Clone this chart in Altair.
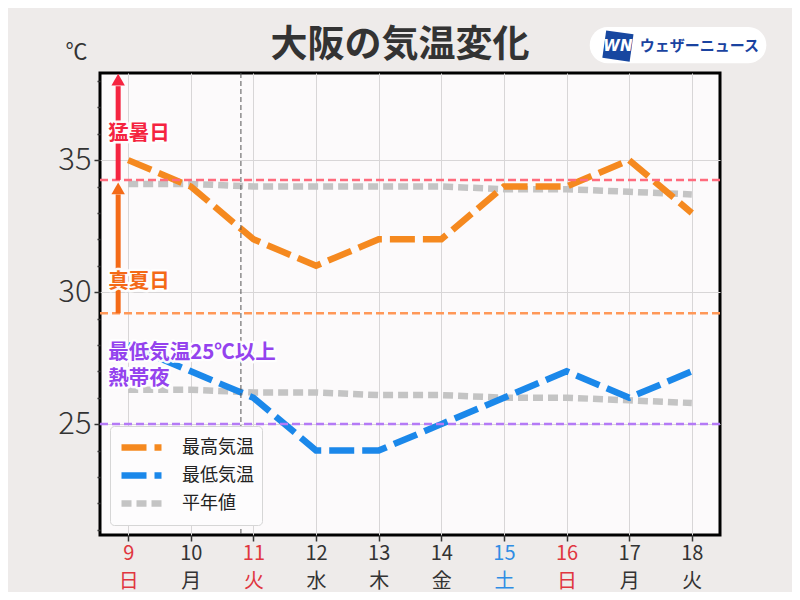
import json
import altair as alt
import pandas as pd

# ---------------- data ----------------
days = [9, 10, 11, 12, 13, 14, 15, 16, 17, 18]
weekdays = ["日", "月", "火", "水", "木", "金", "土", "日", "月", "火"]
holiday_days = [9, 11, 16]
saturday_days = [15]
max_temp = [35, 34, 32, 31, 32, 32, 34, 34, 35, 33]
min_temp = [28, 27, 26, 24, 24, 25, 26, 27, 26, 27]
normal_max = [34.1, 34.1, 34.0, 34.0, 34.0, 34.0, 33.9, 33.9, 33.8, 33.7]
normal_min = [26.3, 26.3, 26.2, 26.2, 26.1, 26.1, 26.0, 26.0, 25.9, 25.8]

series_names = ["最高気温", "最低気温", "平年値"]
series_colors = ["#f5891f", "#1b88ea", "#c4c4c4"]

threshold_values = [34.25, 29.2, 25.0]
threshold_colors = ["#ff6b7d", "#ff9858", "#b47af6"]

arrow_x = [8.84, 8.84]
arrow_bottom = [34.25, 29.2]
arrow_top = [37.8, 33.7]
arrow_head = [38.05, 33.93]
arrow_colors = ["#f52440", "#f46a17"]

label_texts = ["猛暑日", "真夏日", "最低気温25℃以上", "熱帯夜"]
label_x = [8.68, 8.68, 8.68, 8.68]
label_y = [35.98, 30.38, 27.7, 26.72]
label_colors = ["#f52440", "#f46a17", "#9443ee", "#9443ee"]

today_x = [10.8]

logo_name = ["ウェザーニュース"]
logo_mark = ["WN"]
logo_box_x = [16.37, 19.19]
logo_box_y = [38.67, 40.04]
logo_mark_xy = [16.82, 39.32]
logo_text_xy = [17.17, 39.32]

# ---------------- scales / axes ----------------
XS = alt.Scale(domain=[8.55, 18.45], nice=False, zero=False)
YS = alt.Scale(domain=[20.8, 38.3], nice=False, zero=False)
FONT = "Noto Sans CJK JP"
DARK = "#333333"
RED = "#e0363f"
BLUE = "#2f8de4"

temps_rows = []
for d, a, b in zip(days, max_temp, min_temp):
    temps_rows.append({"day": d, "value": a, "series": "最高気温", "kind": "max"})
    temps_rows.append({"day": d, "value": b, "series": "最低気温", "kind": "min"})
temps_df = pd.DataFrame(temps_rows)

normal_rows = []
for d, a, b in zip(days, normal_max, normal_min):
    normal_rows.append({"day": d, "value": a, "series": "平年値", "kind": "nmax"})
    normal_rows.append({"day": d, "value": b, "series": "平年値", "kind": "nmin"})
normal_df = pd.DataFrame(normal_rows)

wd_js = json.dumps(weekdays, ensure_ascii=False)
x_axis = alt.Axis(
    values=days,
    labelExpr=f"[datum.label, {wd_js}[datum.value - {days[0]}]]",
    labelFontSize=20,
    labelLineHeight=28,
    labelPadding=2,
    labelColor={
        "condition": [
            {"test": " || ".join(f"datum.value == {d}" for d in saturday_days), "value": BLUE},
            {"test": " || ".join(f"datum.value == {d}" for d in holiday_days), "value": RED},
        ],
        "value": DARK,
    },
    tickSize=6,
    tickWidth=1.5,
    tickColor=DARK,
    domain=False,
    grid=True,
    gridColor="#d8d6d7",
    gridWidth=1,
    title=None,
)

y_axis = alt.Axis(
    values=list(range(21, 39)),
    labelExpr="datum.value % 5 === 0 ? datum.label : ''",
    labelFontSize=31,
    labelFontWeight=300,
    labelColor=DARK,
    labelPadding=3,
    tickSize={"condition": {"test": "datum.value % 5 === 0", "value": 6}, "value": 3},
    tickWidth=1.5,
    tickColor=DARK,
    domain=False,
    grid=True,
    gridColor="#d8d6d7",
    gridOpacity={"condition": {"test": "datum.value % 5 === 0", "value": 1}, "value": 0},
    title="℃",
    titleAngle=0,
    titleFontSize=22,
    titleFontWeight="normal",
    titleColor=DARK,
    titleAlign="center",
    titleBaseline="middle",
    titleX=-24,
    titleY=-22,
)


def X(field):
    return alt.X(field, scale=XS, axis=x_axis)


def Y(field):
    return alt.Y(field, scale=YS, axis=y_axis)


legend_kw = dict(
    title=None,
    orient="bottom-left",
    offset=10,
    fillColor="#fdfcfd",
    strokeColor="#d6d6d6",
    cornerRadius=4,
    padding=8,
    labelFontSize=18,
    labelColor="#222222",
    labelOffset=37,
    symbolType="M-1,0L3,0",
    symbolSize=400,
    rowPadding=1,
)

dash_range = [[25, 8], [25, 8], [10, 5]]
width_range = [6.5, 6.5, 2.2]


def build_layers(use_encode):
    if use_encode:
        legend = alt.Legend(
            encode={"symbols": {"strokeWidth": {
                "condition": {"test": f"datum.value === '{series_names[2]}'", "value": 3},
                "value": 5.5}}},
            **legend_kw,
        )
    else:
        legend = alt.Legend(**legend_kw)
    color_enc = alt.Color("series:N", scale=alt.Scale(domain=series_names, range=series_colors), legend=legend)
    dash_enc = alt.StrokeDash("series:N", scale=alt.Scale(domain=series_names, range=dash_range), legend=legend)
    extra = {}
    if not use_encode:
        extra["strokeWidth"] = alt.StrokeWidth("series:N", scale=alt.Scale(domain=series_names, range=width_range), legend=legend)
    normal_mark = dict(strokeCap="butt")
    temps_mark = dict(strokeCap="butt")
    if use_encode:
        normal_mark["strokeWidth"] = width_range[2]
        temps_mark["strokeWidth"] = width_range[0]
    normal_layer = alt.Chart(normal_df).mark_line(**normal_mark).encode(
        x=X("day:Q"), y=Y("value:Q"), color=color_enc, strokeDash=dash_enc, detail="kind:N", **extra,
    )
    temps_layer = alt.Chart(temps_df).mark_line(**temps_mark).encode(
        x=X("day:Q"), y=Y("value:Q"), color=color_enc, strokeDash=dash_enc, detail="kind:N", **extra,
    )
    return [normal_layer, temps_layer]


today_layer = alt.Chart(pd.DataFrame({"x": today_x})).mark_rule(
    color="#555555", strokeWidth=1, strokeDash=[5, 3]
).encode(x=X("x:Q"))

other_layers = [today_layer]

for v, c in zip(threshold_values, threshold_colors):
    other_layers.append(
        alt.Chart(pd.DataFrame({"y": [v]})).mark_rule(color=c, strokeWidth=2.5, strokeDash=[8, 4])
        .encode(y=Y("y:Q"))
    )

for ax, y1, y2, yh, c in zip(arrow_x, arrow_bottom, arrow_top, arrow_head, arrow_colors):
    df = pd.DataFrame({"x": [ax], "y1": [y1], "y2": [y2], "yh": [yh]})
    other_layers.append(
        alt.Chart(df).mark_rule(color=c, strokeWidth=5).encode(x=X("x:Q"), y=Y("y1:Q"), y2="y2:Q")
    )
    other_layers.append(
        alt.Chart(df).mark_point(shape="triangle-up", filled=True, color=c, size=180, opacity=1)
        .encode(x=X("x:Q"), y=Y("yh:Q"))
    )

for t, lx, ly, c in zip(label_texts, label_x, label_y, label_colors):
    df = pd.DataFrame({"x": [lx], "y": [ly], "t": [t]})
    base = alt.Chart(df).encode(x=X("x:Q"), y=Y("y:Q"), text="t:N")
    other_layers.append(base.mark_text(align="left", baseline="middle", fontSize=20.5, fontWeight="bold",
                                       font=FONT, color="white", stroke="white", strokeWidth=5,
                                       strokeJoin="round", opacity=0.95))
    other_layers.append(base.mark_text(align="left", baseline="middle", fontSize=20.5, fontWeight="bold",
                                       font=FONT, color=c))

# logo
box_df = pd.DataFrame({"x1": [logo_box_x[0]], "x2": [logo_box_x[1]], "y1": [logo_box_y[0]], "y2": [logo_box_y[1]]})
other_layers.append(
    alt.Chart(box_df).mark_rect(color="white", cornerRadius=18, clip=False).encode(
        x=X("x1:Q"), x2="x2:Q", y=Y("y1:Q"), y2="y2:Q",
    )
)
mark_df = pd.DataFrame({"x": [logo_mark_xy[0]], "y": [logo_mark_xy[1]], "t": logo_mark})
other_layers.append(
    alt.Chart(mark_df).mark_point(shape="square", filled=True, color="#1747a0", size=760, angle=8, opacity=1)
    .encode(x=X("x:Q"), y=Y("y:Q"))
)
other_layers.append(
    alt.Chart(mark_df).mark_text(color="white", fontSize=15, fontWeight="bold", fontStyle="italic",
                                 font="DejaVu Sans", align="center", baseline="middle")
    .encode(x=X("x:Q"), y=Y("y:Q"), text="t:N")
)
name_df = pd.DataFrame({"x": [logo_text_xy[0]], "y": [logo_text_xy[1]], "t": logo_name})
other_layers.append(
    alt.Chart(name_df).mark_text(color="#1a43a0", fontSize=15, fontWeight="bold", font=FONT,
                                 align="left", baseline="middle")
    .encode(x=X("x:Q"), y=Y("y:Q"), text="t:N")
)


def build_chart(use_encode):
    return alt.layer(*(build_layers(use_encode) + other_layers)).properties(
        width=620,
        height=462,
        autosize=alt.AutoSizeParams(type="none"),
        padding={"left": 92, "top": 65, "right": 72, "bottom": 57},
        title=alt.TitleParams("大阪の気温変化", fontSize=37, fontWeight="bold", color=DARK,
                              anchor="middle", dx=-10, offset=-38, font=FONT),
    ).configure(
        font=FONT, background="#eeebea"
    ).configure_view(
        fill="#fcfafb", stroke="black", strokeWidth=3
    )


try:
    chart = build_chart(True)
    chart.to_dict()
except Exception:
    chart = build_chart(False)

chart.save("out.html", embed_options={"renderer": "svg", "actions": False})
